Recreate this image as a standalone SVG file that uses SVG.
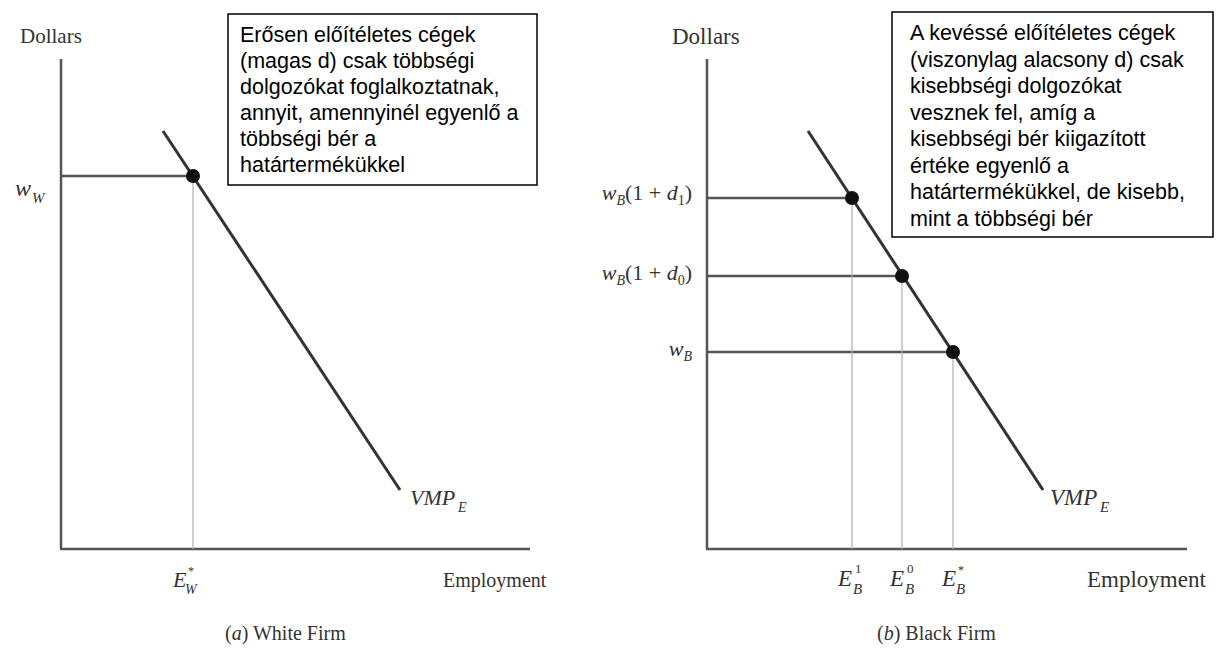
<svg xmlns="http://www.w3.org/2000/svg" width="1223" height="665" viewBox="0 0 1223 665">
<style>
.serif{font-family:"Liberation Serif","Times New Roman",serif;fill:#333}
.it{font-style:italic}
.box{fill:#fff;stroke:#000;stroke-width:1.5}
.note{font-family:"Liberation Sans",Arial,sans-serif;font-size:21.5px;fill:#000}
.axis{stroke:#555;stroke-width:2.5;fill:none}
.vmp{stroke:#333;stroke-width:3;fill:none}
.hline{stroke:#555;stroke-width:2.5;fill:none}
.vline{stroke:#b0b0b0;stroke-width:1.2;fill:none}
.dot{fill:#111}
</style>
<rect width="1223" height="665" fill="#fff"/>

<g id="panel-a">
  <g id="axes-a">
    <line class="axis" x1="61" y1="59" x2="61" y2="549"/>
    <line class="axis" x1="60" y1="549" x2="530" y2="549"/>
  </g>
  <g id="connectors-a">
    <line class="vmp" x1="163" y1="131" x2="400" y2="490"/>
    <line class="hline" x1="61" y1="176" x2="193" y2="176"/>
    <line class="vline" x1="193" y1="176" x2="193" y2="549"/>
  </g>
  <g id="point-a"><circle class="dot" cx="193" cy="176" r="7"/></g>
  <g id="labels-a" class="serif">
    <text x="20" y="43" font-size="21">Dollars</text>
    <text x="15" y="196" font-size="24" class="it">w</text>
    <text x="32" y="203" font-size="15" class="it">W</text>
    <text x="410" y="505" font-size="22" class="it">VMP</text>
    <text x="458" y="512" font-size="14" class="it">E</text>
    <text x="173" y="587" font-size="22" class="it">E</text>
    <text x="188" y="575" font-size="12">*</text>
    <text x="185" y="594" font-size="14" class="it">W</text>
    <text x="443" y="587" font-size="20">Employment</text>
    <text x="225" y="640" font-size="20">(<tspan class="it">a</tspan>) White Firm</text>
  </g>
  <g id="note-a">
    <rect class="box" x="228" y="14" width="309" height="171"/>
    <text class="note" x="240" y="42">Erősen előítéletes cégek</text>
    <text class="note" x="240" y="68">(magas d) csak többségi</text>
    <text class="note" x="240" y="94">dolgozókat foglalkoztatnak,</text>
    <text class="note" x="240" y="120">annyit, amennyinél egyenlő a</text>
    <text class="note" x="240" y="146">többségi bér a</text>
    <text class="note" x="240" y="172">határtermékükkel</text>
  </g>
</g>

<g id="panel-b">
  <g id="axes-b">
    <line class="axis" x1="707" y1="59" x2="707" y2="549"/>
    <line class="axis" x1="706" y1="549" x2="1187" y2="549"/>
  </g>
  <g id="connectors-b">
    <line class="vmp" x1="808" y1="131" x2="1043" y2="490"/>
    <line class="hline" x1="707" y1="198" x2="852" y2="198"/>
    <line class="hline" x1="707" y1="276" x2="902" y2="276"/>
    <line class="hline" x1="707" y1="352" x2="953" y2="352"/>
    <line class="vline" x1="852" y1="198" x2="852" y2="549"/>
    <line class="vline" x1="902" y1="276" x2="902" y2="549"/>
    <line class="vline" x1="953" y1="352" x2="953" y2="549"/>
  </g>
  <g id="points-b">
    <circle class="dot" cx="852" cy="198" r="7"/>
    <circle class="dot" cx="902" cy="276" r="7"/>
    <circle class="dot" cx="953" cy="352" r="7"/>
  </g>
  <g id="labels-b" class="serif">
    <text x="672" y="44" font-size="23">Dollars</text>
    <text x="692" y="200" font-size="22" text-anchor="end"><tspan class="it">w</tspan><tspan class="it" font-size="14" dy="5">B</tspan><tspan dy="-5">(1 + </tspan><tspan class="it">d</tspan><tspan font-size="14" dy="5">1</tspan><tspan dy="-5">)</tspan></text>
    <text x="692" y="280" font-size="22" text-anchor="end"><tspan class="it">w</tspan><tspan class="it" font-size="14" dy="5">B</tspan><tspan dy="-5">(1 + </tspan><tspan class="it">d</tspan><tspan font-size="14" dy="5">0</tspan><tspan dy="-5">)</tspan></text>
    <text x="692" y="356" font-size="22" text-anchor="end"><tspan class="it">w</tspan><tspan class="it" font-size="14" dy="5">B</tspan></text>
    <text x="1050" y="505" font-size="23" class="it">VMP</text>
    <text x="1100" y="512" font-size="15" class="it">E</text>
    <text x="838" y="586" font-size="23" class="it">E</text>
    <text x="855" y="573" font-size="13">1</text>
    <text x="853" y="594" font-size="15" class="it">B</text>
    <text x="890" y="586" font-size="23" class="it">E</text>
    <text x="907" y="573" font-size="13">0</text>
    <text x="905" y="594" font-size="15" class="it">B</text>
    <text x="942" y="586" font-size="23" class="it">E</text>
    <text x="958" y="574" font-size="12">*</text>
    <text x="956" y="594" font-size="15" class="it">B</text>
    <text x="1087" y="587" font-size="23">Employment</text>
    <text x="877" y="640" font-size="20">(<tspan class="it">b</tspan>) Black Firm</text>
  </g>
  <g id="note-b">
    <rect class="box" x="892" y="12" width="321" height="225"/>
    <text class="note" x="910" y="40">A kevéssé előítéletes cégek</text>
    <text class="note" x="910" y="66.5">(viszonylag alacsony d) csak</text>
    <text class="note" x="910" y="93">kisebbségi dolgozókat</text>
    <text class="note" x="910" y="119.5">vesznek fel, amíg a</text>
    <text class="note" x="910" y="146">kisebbségi bér kiigazított</text>
    <text class="note" x="910" y="172.5">értéke egyenlő a</text>
    <text class="note" x="910" y="199">határtermékükkel, de kisebb,</text>
    <text class="note" x="910" y="225.5">mint a többségi bér</text>
  </g>
</g>
</svg>
